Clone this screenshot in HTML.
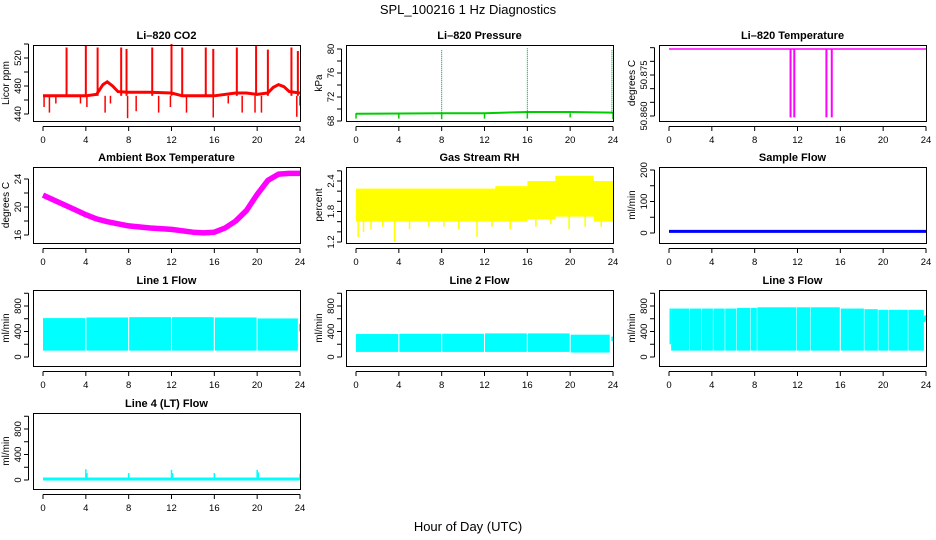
<!DOCTYPE html>
<html><head><meta charset="utf-8"><style>
html,body{margin:0;padding:0;background:#fff;}
svg{display:block;font-family:"Liberation Sans",sans-serif;}
</style></head><body>
<svg id="c" width="936" height="540" viewBox="0 0 936 540">
<text x="468" y="14" text-anchor="middle" font-size="13">SPL_100216  1 Hz Diagnostics</text>
<text x="468" y="531" text-anchor="middle" font-size="13">Hour of Day (UTC)</text>
</svg>
<script>
// ---- data ----
const xTicks = [0,4,8,12,16,20,24];
// CO2
const co2BaseHours = [0,1,2,3,4,5,5.6,6,6.5,7,8,10,12,13,16,18,19,20,21,21.5,22,22.5,23,24];
const co2BaseVals  = [466,466,466,466,466,468,482,486,480,472,471,471,470,466,466,470,470,468,470,478,482,479,472,470];
const co2SpikeHours = [2.2,4.0,5.1,7.3,7.8,10.2,12.0,13.0,15.2,15.9,18.1,19.9,21.0,23.2,23.8];
const co2SpikeTops  = [535,538,535,535,533,535,540,535,535,533,535,537,532,535,530];
const co2DipHours = [0.1,0.6,1.2,3.5,4.1,5.8,6.3,7.9,8.7,10.8,11.9,13.4,15.9,17.3,18.6,19.8,20.4,23.7,24];
const co2DipBottoms = [450,442,455,455,450,442,455,434,444,442,450,442,435,455,442,442,442,436,452];
// Pressure
const presHours = [0,8,12,16,20,24];
const presVals  = [69.2,69.3,69.3,69.5,69.5,69.4];
const presSpikeHours = [8,16,23.9];
const presSpikeTops = [79.8,80.1,79.8];
const presDipHours = [0,4,8,12,16,20,24];
const presDipVals = [68.4,68.4,68.3,68.4,68.4,68.6,68.3];
// Li-820 temperature
const tempLevel = 50.8845;
const tempDipHours = [11.35,11.7,14.7,15.2];
const tempDipVals = [50.8595,50.8595,50.8595,50.8595];
// Ambient
const ambHours = [0,1,2,3,4,5,6,7,8,10,12,14,15,16,17,18,19,20,21,22,23,24];
const ambVals  = [21.7,21.0,20.3,19.6,18.9,18.3,17.9,17.6,17.3,17.0,16.8,16.4,16.3,16.4,17.0,18.0,19.5,21.8,23.8,24.7,24.8,24.8];
// RH
const rhHours = [0,2,13,13.01,16,16.01,18.6,18.61,22.2,22.21,24];
const rhHigh  = [2.25,2.25,2.25,2.3,2.3,2.4,2.4,2.5,2.5,2.4,2.4];
const rhLow   = [1.6,1.6,1.6,1.6,1.6,1.65,1.65,1.7,1.7,1.6,1.6];
const rhDipHours = [0.2,0.7,1.4,2.5,3.6,5.0,6.8,8.2,9.6,11.3,12.7,14.4,16.8,18.2,19.9,21.4,22.9];
const rhDipVals  = [1.3,1.4,1.45,1.5,1.2,1.45,1.5,1.5,1.45,1.3,1.5,1.45,1.5,1.55,1.45,1.5,1.5];
// Sample flow
const sampleHours = [0,24];
const sampleVals = [5,5];
// Line flows: segments
const l1Start=[0,4.05,8.05,12.05,16.05,20.05,23.9];
const l1End  =[3.95,7.95,11.95,15.95,19.95,23.8,24];
const l1Low  =[100,100,100,100,100,100,400];
const l1High =[610,620,625,625,620,605,520];
const l2Start=[0,4.05,8.05,12.05,16.05,20.05,23.85];
const l2End  =[3.95,7.95,11.95,15.95,19.95,23.7,24];
const l2Low  =[80,80,80,80,80,70,250];
const l2High =[360,365,365,370,370,350,320];
const l3Start=[0.05,0.2,1.95,3.05,4.15,5.25,6.35,7.65,8.25,11.95,13.25,16.05,18.25,19.55,20.55,22.35];
const l3End  =[0.2,1.9,3.0,4.1,5.2,6.3,7.6,8.2,11.9,13.2,15.95,18.2,19.5,20.5,22.3,23.8];
const l3Low  =[200,100,100,100,100,100,100,100,100,100,100,100,100,100,100,100];
const l3High =[760,760,760,760,760,760,770,770,780,780,780,760,750,740,740,740];
const l3EndH=[23.8,24]; const l3EndV=[550,650];
// Line 4
const l4Base = 15;
const l4SpikeHours=[4,4.1,8,12,12.1,16,20,20.1,24];
const l4SpikeVals =[170,110,110,160,110,110,160,120,100];

// ---- layout ----
const svg=document.getElementById('c');
const NS='http://www.w3.org/2000/svg';
const colL=[33,346,659], colW=267;
const rowT=[45,167,290,413], rowH=76;
function mk(tag,attrs,parent){const e=document.createElementNS(NS,tag);for(const k in attrs)e.setAttribute(k,attrs[k]);(parent||svg).appendChild(e);return e;}

function panel(col,row,name,title,ylab,ref,ticks,labels){
  const g=mk('g',{});
  
  
  const L=colL[col],T=rowT[row],R=L+colW,B=T+rowH;
  const X=h=>L+10+h*(257/24);
  const Y=v=>ref[1]+(v-ref[0])*(ref[3]-ref[1])/(ref[2]-ref[0]);
  const t=mk('text',{x:L+colW/2,y:T-6,'text-anchor':'middle','font-size':11,'font-weight':'bold'},g);
  t.textContent=title;
  
  
  const yl=mk('text',{x:0,y:0,'text-anchor':'middle','font-size':10,transform:`translate(${L-24},${(T+B)/2}) rotate(-90)`},g);
  yl.textContent=ylab;
  
  
  const plot=mk('g',{},g);
  
  
  const ax=mk('g',{stroke:'#000','stroke-width':1,fill:'none'},g);
  
  
  mk('rect',{x:L+.5,y:T+.5,width:colW,height:rowH},ax);
  mk('line',{x1:X(0),x2:X(24),y1:B+5.5,y2:B+5.5},ax);
  xTicks.forEach(h=>{
    mk('line',{x1:X(h),x2:X(h),y1:B+5.5,y2:B+10},ax);
    const tl=mk('text',{x:X(h),y:B+22,'text-anchor':'middle','font-size':9.5,fill:'#000',stroke:'none'},g);
    tl.textContent=h;
    
    
  });
  mk('line',{x1:L-4.5,x2:L-4.5,y1:Y(ticks[0]),y2:Y(ticks[ticks.length-1])},ax);
  ticks.forEach(v=>{mk('line',{x1:L-9,x2:L-4.5,y1:Y(v),y2:Y(v)},ax);});
  labels.forEach(v=>{
    const tl=mk('text',{x:0,y:0,'text-anchor':'middle','font-size':9.5,transform:`translate(${L-12},${Y(v)}) rotate(-90)`},g);
    tl.textContent=v;
    
    
  });
  return {plot,X,Y,L,T,R,B};
}
function poly(p,xs,ys,X,Y,attrs){return mk('polyline',Object.assign({points:xs.map((h,i)=>X(h)+','+Y(ys[i])).join(' '),fill:'none'},attrs),p);}

// CO2
(function(){const P=panel(0,0,'co2','Li\u2013820 CO2','Licor ppm',[440,114,520,58],[440,460,480,500,520,540],[440,480,520]);
  poly(P.plot,co2BaseHours,co2BaseVals,P.X,P.Y,{stroke:'#f00','stroke-width':3});
  co2SpikeHours.forEach((h,i)=>{const l=mk('line',{x1:P.X(h),x2:P.X(h),y1:P.Y(466),y2:P.Y(co2SpikeTops[i]),stroke:'#f00','stroke-width':2},P.plot);});
  co2DipHours.forEach((h,i)=>{const l=mk('line',{x1:P.X(h),x2:P.X(h),y1:P.Y(466),y2:P.Y(co2DipBottoms[i]),stroke:'#f00','stroke-width':1.5},P.plot);});
})();
// Pressure
(function(){const P=panel(1,0,'pressure','Li\u2013820 Pressure','kPa',[68,121,80,49],[68,70,72,74,76,78,80],[68,72,76,80]);
  poly(P.plot,presHours,presVals,P.X,P.Y,{stroke:'#0c0','stroke-width':2});
  presSpikeHours.forEach((h,i)=>{const l=mk('line',{x1:P.X(h),x2:P.X(h),y1:P.Y(69.3),y2:P.Y(presSpikeTops[i]),stroke:'#083','stroke-width':1,'stroke-dasharray':'1,1'},P.plot);});
  presDipHours.forEach((h,i)=>{const l=mk('line',{x1:P.X(h),x2:P.X(h),y1:P.Y(69.3),y2:P.Y(presDipVals[i]),stroke:'#0c0','stroke-width':1.5},P.plot);});
})();
// Temperature
(function(){const P=panel(2,0,'li820-temp','Li\u2013820 Temperature','degrees C',[50.860,116,50.875,75],[50.860,50.865,50.870,50.875,50.880,50.885],['50.860','50.875']);
  poly(P.plot,[0,24],[tempLevel,tempLevel],P.X,P.Y,{stroke:'#f0f','stroke-width':1.5});
  tempDipHours.forEach((h,i)=>{const l=mk('line',{x1:P.X(h),x2:P.X(h),y1:P.Y(tempLevel),y2:P.Y(tempDipVals[i]),stroke:'#f0f','stroke-width':2},P.plot);});
})();
// Ambient
(function(){const P=panel(0,1,'ambient','Ambient Box Temperature','degrees C',[16,235,24,179],[16,18,20,22,24],[16,20,24]);
  poly(P.plot,ambHours,ambVals,P.X,P.Y,{stroke:'#f0f','stroke-width':5.5,'stroke-linejoin':'round'});
})();
// RH
(function(){const P=panel(1,1,'rh','Gas Stream RH','percent',[1.2,242,2.4,181],[1.2,1.4,1.6,1.8,2.0,2.2,2.4,2.6],[1.2,1.8,2.4]);
  const pts=rhHours.map((h,i)=>P.X(h)+','+P.Y(rhHigh[i])).concat(rhHours.slice().reverse().map((h,i)=>P.X(h)+','+P.Y(rhLow[rhHours.length-1-i])));
  const pg=mk('polygon',{points:pts.join(' '),fill:'#ff0'},P.plot);
  
  
  rhDipHours.forEach((h,i)=>{const l=mk('line',{x1:P.X(h),x2:P.X(h),y1:P.Y(1.8),y2:P.Y(rhDipVals[i]),stroke:'#ff0','stroke-width':1.5},P.plot);});
})();
// Sample flow
(function(){const P=panel(2,1,'sample-flow','Sample Flow','ml/min',[0,233,200,170],[0,50,100,150,200],[0,100,200]);
  poly(P.plot,sampleHours,sampleVals,P.X,P.Y,{stroke:'#00f','stroke-width':3});
})();
function flowPanel(col,row,name,title,s,e,lo,hi){
  const y0=357+(row-2)*123;
  const P=panel(col,row,name,title,'ml/min',[0,y0,800,y0-51],[0,200,400,600,800,1000],[0,400,800]);
  s.forEach((h,i)=>{const r=mk('rect',{x:P.X(h),y:P.Y(hi[i]),width:Math.max(1,P.X(e[i])-P.X(h)),height:P.Y(lo[i])-P.Y(hi[i]),fill:'#0ff'},P.plot);});
  return P;
}
flowPanel(0,2,'line1-flow','Line 1 Flow',l1Start,l1End,l1Low,l1High);
flowPanel(1,2,'line2-flow','Line 2 Flow',l2Start,l2End,l2Low,l2High);
(function(){const P=flowPanel(2,2,'line3-flow','Line 3 Flow',l3Start,l3End,l3Low,l3High);
  poly(P.plot,l3EndH,l3EndV,P.X,P.Y,{stroke:'#0ff','stroke-width':3});})();
(function(){const P=panel(0,3,'line4-flow','Line 4 (LT) Flow','ml/min',[0,480,800,429],[0,200,400,600,800,1000],[0,400,800]);
  poly(P.plot,[0,24],[l4Base,l4Base],P.X,P.Y,{stroke:'#0ff','stroke-width':3});
  l4SpikeHours.forEach((h,i)=>{const l=mk('line',{x1:P.X(h),x2:P.X(h),y1:P.Y(l4Base),y2:P.Y(l4SpikeVals[i]),stroke:'#0ff','stroke-width':1.5},P.plot);});
})();
</script>
</body></html>
